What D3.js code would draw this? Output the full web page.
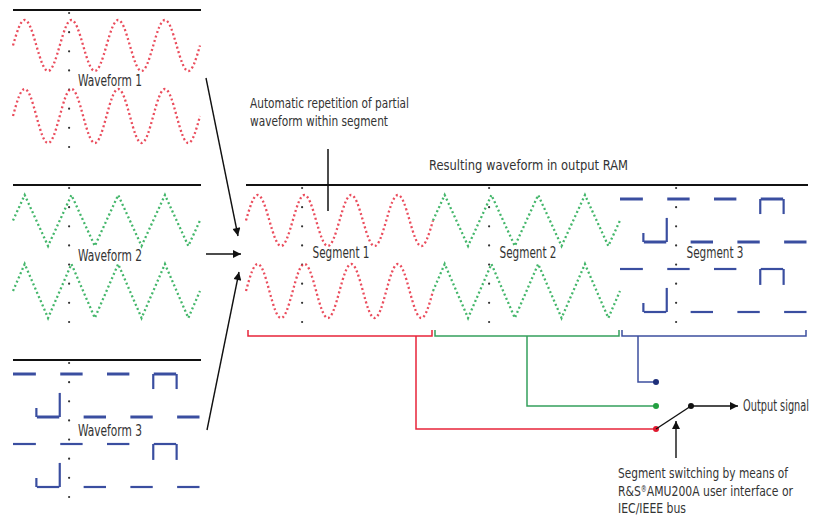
<!DOCTYPE html>
<html>
<head>
<meta charset="utf-8">
<script src="https://cdn.jsdelivr.net/npm/d3@7/dist/d3.min.js"></script>
<style>
html,body{margin:0;padding:0;background:#fff;}
svg{display:block;}
text{font-family:'Liberation Sans Narrow','DejaVu Sans Condensed','Arial Narrow',sans-serif;fill:#333;}
</style>
</head>
<body>
<svg id="chart" width="813" height="517"></svg>
<script>
// ---------------- data ----------------
const cyclesPerSegment = 4;
// one period of each partial waveform (-1..1)
const sineCycle = [0, 0.71, 1, 0.71, 0, -0.71, -1, -0.71];
const triangleCycle = [0, 1, 0, -1];
const squareCycle = [1, -1];                // levels per half period
// visible vertical edges of the square wave: [half-period boundary, from level, to level]
const squareEdgesUpper = [[1, -1, -0.58], [2, -1, 0.12], [6, 1, 0.3], [7, 1, 0.3]];
const squareEdgesLower = [[1, -1, -0.58], [2, -1, 0.12], [6, 1, 0.26], [7, 1, 0.26]];
const axisDotCount = 8;

const waveformLabels = ["Waveform 1", "Waveform 2", "Waveform 3"];
const segmentLabels = ["Segment 1", "Segment 2", "Segment 3"];
const repetitionNote = ["Automatic repetition of partial", "waveform within segment"];
const ramTitle = "Resulting waveform in output RAM";
const outputLabel = "Output signal";
const switchNote = ["Segment switching by means of", "R&S|\u00AE|AMU200A user interface or", "IEC/IEEE bus"];

const waveColors = ["#e8394a", "#2fae5a", "#3a4ea0"];
const bracketColors = ["#e8243a", "#34a05c", "#3c4f9f"];
const nodeColors = ["#e0182e", "#22a040", "#1e2f7a"];

// ---------------- drawing ----------------
const svg = d3.select("#chart");
const defs = svg.append("defs");
defs.append("marker").attr("id", "arrow")
  .attr("viewBox", "0 0 10 10").attr("refX", 10).attr("refY", 5)
  .attr("markerWidth", 9).attr("markerHeight", 8)
  .attr("markerUnits", "userSpaceOnUse").attr("orient", "auto")
  .append("path").attr("d", "M0,0 L10,5 L0,10 Z").attr("fill", "#111");

function label(x, y, txt, width, anchor, size) {
  const t = svg.append("text").attr("x", x).attr("y", y).attr("font-size", size || 14.5)
    .attr("text-anchor", anchor || "start")
    .attr("textLength", width).attr("lengthAdjust", "spacingAndGlyphs");
  const parts = txt.split("|");
  if (parts.length === 1) t.text(txt);
  else parts.forEach((p, i) => {
    const s = t.append("tspan").text(p);
    if (i === 1) s.attr("font-size", 8).attr("baseline-shift", "4");
  });
  return t;
}

const segW = 187;
function cyclePoints(cycle) {
  const n = cycle.length, pts = [];
  for (let i = 0; i <= cyclesPerSegment * n; i++) pts.push([i / n, cycle[i % n]]);
  return pts;
}

// draws one waveform panel (two rows) at offset
function drawPanel(kind, xoff, yoff, withLine) {
  const g = svg.append("g");
  const x = d3.scaleLinear().domain([0, cyclesPerSegment]).range([xoff + 13, xoff + 13 + segW]);
  if (withLine) {
    g.append("line").attr("x1", xoff + 13).attr("x2", xoff + 201)
      .attr("y1", yoff + 10).attr("y2", yoff + 10)
      .attr("stroke", "#111").attr("stroke-width", 2);
  }
  // dotted axis
  const axisY = d3.scaleLinear().domain([0, axisDotCount - 1]).range([yoff + 13, yoff + 147]);
  g.selectAll("circle.ax").data(d3.range(axisDotCount)).join("circle")
    .attr("cx", x(1.2)).attr("cy", d => axisY(d)).attr("r", 1.1).attr("fill", "#333");

  if (kind === 0 || kind === 1) {
    const cyc = kind === 0 ? sineCycle : triangleCycle;
    const curve = kind === 0 ? d3.curveNatural : d3.curveLinear;
    const rows = [[yoff + 71, yoff + 20], [yoff + 143, yoff + 89]];
    rows.forEach(r => {
      const y = d3.scaleLinear().domain([-1, 1]).range(r);
      const line = d3.line().x(d => x(d[0])).y(d => y(d[1])).curve(curve);
      g.append("path").attr("d", line(cyclePoints(cyc)))
        .attr("fill", "none").attr("stroke", waveColors[kind])
        .attr("stroke-width", 2.3).attr("stroke-dasharray", "2,2.6")
        .attr("opacity", 0.9);
    });
  } else {
    const rows = [[yoff + 67, yoff + 24, 3, squareEdgesUpper], [yoff + 137, yoff + 94, 2.2, squareEdgesLower]];
    const halves = d3.range(cyclesPerSegment * 2);
    rows.forEach(r => {
      const y = d3.scaleLinear().domain([-1, 1]).range([r[0], r[1]]);
      g.selectAll(null).data(halves).join("line")
        .attr("x1", d => x(d / 2) + (d === 0 ? 0 : 0.5))
        .attr("x2", d => x((d + 1) / 2) - 0.5)
        .attr("y1", d => y(squareCycle[d % 2])).attr("y2", d => y(squareCycle[d % 2]))
        .attr("stroke", waveColors[2]).attr("stroke-width", r[2]);
      g.selectAll(null).data(r[3]).join("line")
        .attr("x1", d => x(d[0] / 2)).attr("x2", d => x(d[0] / 2))
        .attr("y1", d => y(d[1])).attr("y2", d => y(d[2]))
        .attr("stroke", waveColors[2]).attr("stroke-width", 2.2);
    });
  }
}

// left column
[0, 1, 2].forEach(k => {
  drawPanel(k, 0, k * 175, true);
  label(110, k * 175 + 86, waveformLabels[k], 64, "middle", 15);
});

// big panel
svg.append("line").attr("x1", 246).attr("x2", 808).attr("y1", 185).attr("y2", 185)
  .attr("stroke", "#111").attr("stroke-width", 2);
const segOff = [233, 420, 607];
segOff.forEach((xo, k) => {
  drawPanel(k, xo, 175, false);
  label(xo + 108, 258, segmentLabels[k], 57, "middle", 15);
});
svg.append("line").attr("x1", 328).attr("x2", 328).attr("y1", 149).attr("y2", 211)
  .attr("stroke", "#111").attr("stroke-width", 1.5);

// texts
label(250, 108, repetitionNote[0], 159);
label(250, 126, repetitionNote[1], 138);
label(429, 170, ramTitle, 199);

// arrows from waveforms
const arrows = [[206, 78, 238, 236], [206, 254, 241, 254], [207, 430, 239, 272]];
svg.selectAll(null).data(arrows).join("line")
  .attr("x1", d => d[0]).attr("y1", d => d[1]).attr("x2", d => d[2]).attr("y2", d => d[3])
  .attr("stroke", "#111").attr("stroke-width", 1.4).attr("marker-end", "url(#arrow)");

// brackets and routing
const stems = [416, 527, 638];
const nodeY = [429, 406, 382];
segOff.forEach((xo, k) => {
  const x0 = xo + 15, x1 = xo + 199;
  svg.append("path").attr("d", `M${x0},330 V336 H${x1} V330`)
    .attr("fill", "none").attr("stroke", bracketColors[k]).attr("stroke-width", 1.5);
  svg.append("path").attr("d", `M${stems[k]},336 V${nodeY[k]} H656`)
    .attr("fill", "none").attr("stroke", bracketColors[k]).attr("stroke-width", 1.5);
  svg.append("circle").attr("cx", 656).attr("cy", nodeY[k]).attr("r", 3)
    .attr("fill", nodeColors[k]);
});

// switch
svg.append("line").attr("x1", 656).attr("y1", 429).attr("x2", 691).attr("y2", 406)
  .attr("stroke", "#111").attr("stroke-width", 1.4);
svg.append("circle").attr("cx", 691).attr("cy", 406).attr("r", 3).attr("fill", "#111");
svg.append("line").attr("x1", 691).attr("y1", 406).attr("x2", 738).attr("y2", 406)
  .attr("stroke", "#111").attr("stroke-width", 1.4).attr("marker-end", "url(#arrow)");
label(743, 411, outputLabel, 66, "start", 15);
svg.append("line").attr("x1", 676).attr("y1", 458).attr("x2", 676).attr("y2", 421)
  .attr("stroke", "#111").attr("stroke-width", 1.4).attr("marker-end", "url(#arrow)");
const switchW = [170, 175, 68];
switchNote.forEach((t, i) => label(618, 478 + i * 17.5, t, switchW[i]));
</script>
</body>
</html>
